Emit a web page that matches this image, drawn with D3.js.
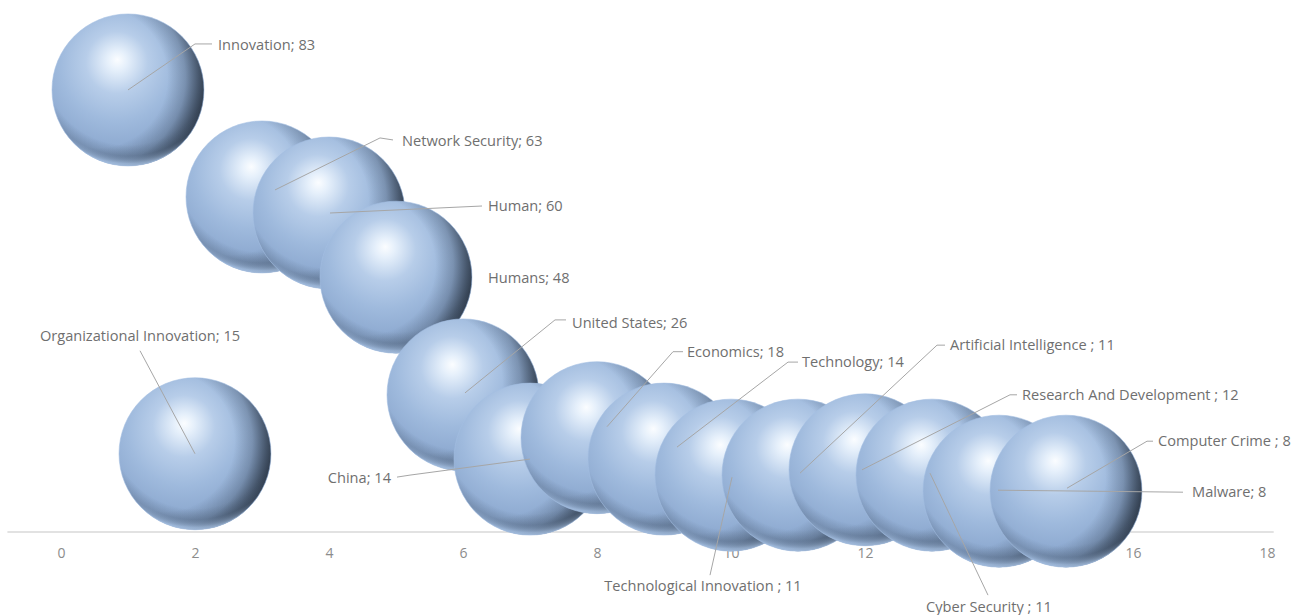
<!DOCTYPE html>
<html>
<head>
<meta charset="utf-8">
<script src="https://cdn.jsdelivr.net/npm/d3@7/dist/d3.min.js"></script>
<style>
  body { margin: 0; background: #ffffff; }
  #main-container { width: 1299px; height: 615px; }
</style>
</head>
<body>
<div id="main-container"></div>
<script>

// chart data
var terms = ["Innovation", "Organizational Innovation", "Network Security", "Human", "Humans",
             "United States", "China", "Economics", "Technology", "Technological Innovation ",
             "Artificial Intelligence ", "Research And Development ", "Cyber Security ", "Malware", "Computer Crime "];
var positions = [1, 2, 3, 4, 5, 6, 7, 8, 9, 10, 11, 12, 13, 14, 15];
var counts = [83, 15, 63, 60, 48, 26, 14, 18, 14, 11, 11, 12, 11, 8, 8];
var xTicks = [0, 2, 4, 6, 8, 10, 12, 14, 16, 18];

// label placement (offset from bubble centre) and leader line points
var labelOffsets = [
    [90, -45, "start"], [-55, -118, "middle"], [140, -56, "start"], [159, -7, "start"], [92, 1, "start"],
    [109, -72, "start"], [-139, 19, "end"], [90, -86, "start"], [138, -97, "start"], [-28, 111, "middle"],
    [152, -130, "start"], [157, -75, "start"], [57, 132, "middle"], [193, 1, "start"], [92, -50, "start"]
];
var leaders = [
    [[0, 0], [67, -46], [84, -46]],
    [[0, 0], [-55, -103]],
    [[13, -7], [118, -59], [131, -57]],
    [[1, 0], [153, -7]],
    null,
    [[2, -2], [92, -75], [103, -75]],
    [[0, 0], [-120, 16], [-133, 18]],
    [[10, -11], [76, -86], [86, -86]],
    [[13, -12], [124, -97], [134, -97]],
    [[1, 2], [-21, 100]],
    [[2, -2], [139, -130], [147, -130]],
    [[-3, 0], [145, -75], [152, -75]],
    [[-2, -2], [56, 120]],
    [[-1, -1], [184, 1]],
    [[1, -3], [81, -50], [87, -50]]
];

var containerWidth = 1299;
var containerHeight = 615;
var bubbleRadius = 76;

var svg = d3.select("div#main-container")
            .append("svg")
            .attr("width", containerWidth)
            .attr("height", containerHeight)
            .style("font-family", "'Open Sans', sans-serif");

var x = d3.scaleLinear().domain([0, 18]).range([61, 1267]);
var y = d3.scaleLinear().domain([0, 100]).range([534, -1]);

// sphere look: base + dark crescent on the right + light rim at the bottom
var defs = svg.append("defs");
function addGradient(id, attrs, stops) {
    var g = defs.append("radialGradient").attr("id", id);
    Object.keys(attrs).forEach(function(k) { g.attr(k, attrs[k]); });
    stops.forEach(function(s) {
        g.append("stop").attr("offset", s[0]).attr("stop-color", s[1]).attr("stop-opacity", s[2]);
    });
}
addGradient("sphere", {cx: 0.42, cy: 0.36, r: 0.64, fx: 0.43, fy: 0.3},
    [[0, "#fbfdff", 1], [0.1, "#e6f0fb", 1], [0.32, "#b7cde9", 1], [0.58, "#9fbadd", 1],
     [0.8, "#90acd2", 1], [1, "#84a0c6", 1]]);
addGradient("shade", {cx: 0.3, cy: 0.42, r: 0.74},
    [[0, "#18202a", 0], [0.62, "#18202a", 0], [0.78, "#18202a", 0.22], [0.9, "#18202a", 0.6], [1, "#18202a", 0.88]]);
addGradient("rim", {cx: 0.5, cy: 0.3, r: 0.72},
    [[0, "#4a5c74", 0], [0.78, "#4a5c74", 0], [0.88, "#4a5c74", 0.3], [0.95, "#b3cef0", 0.6], [1, "#b8d2f2", 0.9]]);

// axis line sits behind the bubbles
svg.append("line")
    .attr("x1", x(-0.8)).attr("x2", x(18.1))
    .attr("y1", 532).attr("y2", 532)
    .attr("stroke", "#d9d9d9")
    .attr("stroke-width", 1.5);

var axis = d3.axisBottom(x).tickValues(xTicks).tickSize(0).tickPadding(16);
svg.append("g")
    .attr("transform", "translate(0,532)")
    .call(axis)
    .call(function(g) { g.select(".domain").remove(); })
    .selectAll("text")
    .attr("font-family", "'Open Sans', sans-serif")
    .attr("font-size", "14px")
    .attr("fill", "#8c8c8c");

var idx = d3.range(terms.length);

var bubbles = svg.selectAll("g.bubble")
    .data(idx)
    .enter()
    .append("g")
    .attr("class", "bubble")
    .attr("transform", function(i) { return "translate(" + x(positions[i]) + "," + y(counts[i]) + ")"; });

bubbles.append("circle")
    .attr("r", bubbleRadius)
    .attr("fill", "url(#sphere)");
bubbles.append("circle")
    .attr("r", bubbleRadius)
    .attr("fill", "url(#shade)");
bubbles.append("circle")
    .attr("r", bubbleRadius)
    .attr("fill", "url(#rim)")
    .attr("stroke", "#a3bfe3")
    .attr("stroke-opacity", 0.7)
    .attr("stroke-width", 0.8);

// leader lines on top of every bubble
var line = d3.line();
svg.selectAll("path.leader")
    .data(idx.filter(function(i) { return leaders[i]; }))
    .enter()
    .append("path")
    .attr("class", "leader")
    .attr("d", function(i) {
        var cx = x(positions[i]), cy = y(counts[i]);
        return line(leaders[i].map(function(p) { return [cx + p[0], cy + p[1]]; }));
    })
    .attr("fill", "none")
    .attr("stroke", "#a6a6a6")
    .attr("stroke-width", 1);

svg.selectAll("text.label")
    .data(idx)
    .enter()
    .append("text")
    .attr("class", "label")
    .text(function(i) { return terms[i] + "; " + counts[i]; })
    .attr("x", function(i) { return x(positions[i]) + labelOffsets[i][0]; })
    .attr("y", function(i) { return y(counts[i]) + labelOffsets[i][1]; })
    .attr("dy", "0.35em")
    .attr("text-anchor", function(i) { return labelOffsets[i][2]; })
    .attr("font-size", "14.6px")
    .attr("fill", "#6f6f6f");
</script>
</body>
</html>
